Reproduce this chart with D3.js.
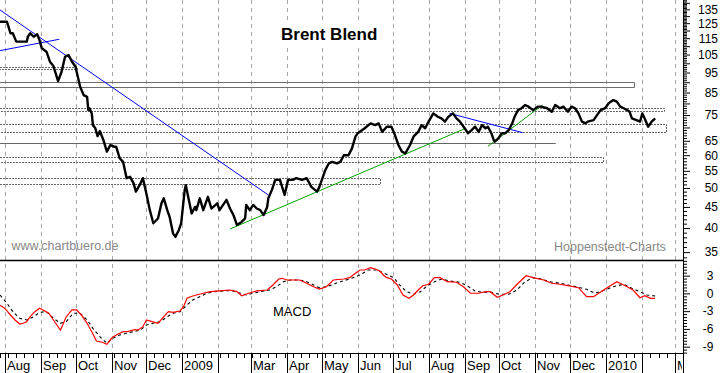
<!DOCTYPE html>
<html>
<head>
<meta charset="utf-8">
<script src="https://cdn.jsdelivr.net/npm/d3@7/dist/d3.min.js"></script>
<style>
body { margin: 0; background: #fff; }
svg { display: block; font-family: "Liberation Sans", Arial, sans-serif; }
</style>
</head>
<body>
<svg id="chart" width="723" height="373"></svg>
<script>
"use strict";

//  Data  ---
var brent = [
    ["2008-07-28", 126.0], ["2008-08-03", 126.0], ["2008-08-06", 118.2], ["2008-08-08", 118.2], ["2008-08-11", 112.8],
    ["2008-08-20", 112.8], ["2008-08-21", 115.9], ["2008-08-23", 118.2], ["2008-08-26", 115.9], ["2008-08-29", 117.5],
    ["2008-08-31", 113.8], ["2008-09-02", 108.7], ["2008-09-06", 106.7], ["2008-09-09", 100.9], ["2008-09-12", 98.5],
    ["2008-09-16", 90.6], ["2008-09-19", 95.4], ["2008-09-22", 103.7], ["2008-09-25", 104.7], ["2008-09-28", 100.9],
    ["2008-10-01", 98.1], ["2008-10-03", 92.8], ["2008-10-05", 87.8], ["2008-10-08", 83.8], ["2008-10-11", 83.0],
    ["2008-10-12", 77.1], ["2008-10-13", 77.9], ["2008-10-15", 75.7], ["2008-10-16", 70.9], ["2008-10-18", 69.8],
    ["2008-10-20", 66.7], ["2008-10-22", 68.6], ["2008-10-25", 65.3], ["2008-10-28", 61.2], ["2008-10-31", 63.5],
    ["2008-11-03", 62.9], ["2008-11-05", 62.9], ["2008-11-08", 59.0], ["2008-11-11", 57.8], ["2008-11-14", 52.8],
    ["2008-11-17", 53.2], ["2008-11-20", 51.3], ["2008-11-22", 49.0], ["2008-11-26", 51.3], ["2008-11-28", 52.8],
    ["2008-12-01", 48.5], ["2008-12-04", 44.2], ["2008-12-07", 41.1], ["2008-12-11", 42.2], ["2008-12-14", 45.9],
    ["2008-12-16", 47.2], ["2008-12-19", 44.2], ["2008-12-21", 42.6], ["2008-12-24", 38.8], ["2008-12-26", 38.1],
    ["2008-12-29", 39.6], ["2008-12-31", 41.1], ["2009-01-03", 49.4], ["2009-01-04", 50.8], ["2009-01-06", 47.6],
    ["2009-01-09", 43.4], ["2009-01-12", 45.0], ["2009-01-13", 44.2], ["2009-01-16", 47.2], ["2009-01-19", 44.2],
    ["2009-01-23", 47.6], ["2009-01-26", 44.6], ["2009-01-31", 45.9], ["2009-02-02", 44.2], ["2009-02-08", 46.8],
    ["2009-02-11", 44.6], ["2009-02-14", 43.0], ["2009-02-17", 40.7], ["2009-02-21", 41.4], ["2009-02-24", 42.2],
    ["2009-02-25", 45.5], ["2009-02-28", 44.2], ["2009-03-03", 45.5], ["2009-03-06", 44.6], ["2009-03-09", 44.2],
    ["2009-03-12", 43.0], ["2009-03-15", 45.0], ["2009-03-16", 47.2], ["2009-03-19", 49.4], ["2009-03-22", 52.3],
    ["2009-03-26", 52.3], ["2009-03-30", 48.1], ["2009-04-02", 52.3], ["2009-04-06", 52.3], ["2009-04-09", 52.8],
    ["2009-04-14", 52.3], ["2009-04-18", 52.8], ["2009-04-22", 50.3], ["2009-04-27", 49.0], ["2009-04-29", 50.3],
    ["2009-05-04", 55.2], ["2009-05-07", 57.3], ["2009-05-10", 57.8], ["2009-05-14", 57.3], ["2009-05-17", 57.8],
    ["2009-05-20", 60.0], ["2009-05-24", 60.0], ["2009-05-27", 62.3], ["2009-05-30", 66.5], ["2009-06-01", 67.8],
    ["2009-06-07", 69.7], ["2009-06-12", 71.6], ["2009-06-16", 70.9], ["2009-06-19", 71.6], ["2009-06-22", 68.3],
    ["2009-06-26", 70.3], ["2009-06-30", 70.3], ["2009-07-03", 67.1], ["2009-07-06", 63.5], ["2009-07-09", 61.2],
    ["2009-07-12", 60.6], ["2009-07-16", 63.5], ["2009-07-19", 66.5], ["2009-07-23", 68.3], ["2009-07-26", 70.9],
    ["2009-07-29", 69.7], ["2009-08-01", 72.3], ["2009-08-05", 75.7], ["2009-08-09", 74.3], ["2009-08-12", 73.6],
    ["2009-08-15", 72.3], ["2009-08-18", 74.3], ["2009-08-22", 75.7], ["2009-08-25", 73.6], ["2009-08-28", 72.3],
    ["2009-09-01", 69.7], ["2009-09-04", 67.8], ["2009-09-07", 69.0], ["2009-09-10", 70.3], ["2009-09-13", 68.3],
    ["2009-09-16", 70.9], ["2009-09-19", 69.7], ["2009-09-21", 70.3], ["2009-09-24", 67.8], ["2009-09-26", 65.3],
    ["2009-09-27", 64.7], ["2009-09-30", 65.9], ["2009-10-03", 67.8], ["2009-10-06", 67.8], ["2009-10-09", 69.0],
    ["2009-10-12", 71.6], ["2009-10-14", 74.3], ["2009-10-17", 77.1], ["2009-10-20", 77.9], ["2009-10-23", 79.3],
    ["2009-10-26", 78.6], ["2009-10-30", 77.1], ["2009-11-03", 78.6], ["2009-11-06", 78.6], ["2009-11-11", 77.9],
    ["2009-11-15", 76.4], ["2009-11-18", 79.3], ["2009-11-22", 77.9], ["2009-11-25", 78.6], ["2009-11-29", 76.4],
    ["2009-12-02", 78.6], ["2009-12-05", 77.9], ["2009-12-08", 75.7], ["2009-12-11", 72.3], ["2009-12-14", 71.6],
    ["2009-12-16", 72.3], ["2009-12-21", 72.9], ["2009-12-24", 75.0], ["2009-12-27", 77.1], ["2009-12-31", 77.9],
    ["2010-01-03", 80.1], ["2010-01-07", 81.5], ["2010-01-10", 80.8], ["2010-01-13", 78.6], ["2010-01-16", 77.9],
    ["2010-01-19", 77.1], ["2010-01-21", 76.4], ["2010-01-23", 73.6], ["2010-01-27", 72.9], ["2010-01-30", 72.3],
    ["2010-02-01", 75.7], ["2010-02-03", 73.6], ["2010-02-06", 70.3], ["2010-02-09", 72.3], ["2010-02-12", 73.6]
];

var macdLine = [
    ["2008-07-28", -2.0], ["2008-08-01", -2.5], ["2008-08-06", -3.65], ["2008-08-10", -4.5], ["2008-08-14", -5.17],
    ["2008-08-17", -5.05], ["2008-08-20", -4.78], ["2008-08-23", -3.94], ["2008-08-27", -3.09], ["2008-08-31", -2.52],
    ["2008-09-03", -2.8], ["2008-09-08", -3.36], ["2008-09-12", -4.49], ["2008-09-15", -5.34], ["2008-09-18", -6.18],
    ["2008-09-20", -5.34], ["2008-09-23", -3.94], ["2008-09-28", -2.8], ["2008-10-02", -2.8], ["2008-10-06", -3.65],
    ["2008-10-11", -5.05], ["2008-10-15", -6.47], ["2008-10-19", -8.04], ["2008-10-24", -8.26], ["2008-10-28", -8.6],
    ["2008-11-01", -7.58], ["2008-11-05", -7.03], ["2008-11-11", -6.47], ["2008-11-15", -6.47], ["2008-11-20", -6.18],
    ["2008-11-24", -6.18], ["2008-11-28", -5.63], ["2008-12-01", -4.49], ["2008-12-06", -4.78], ["2008-12-11", -5.05],
    ["2008-12-16", -3.94], ["2008-12-20", -3.09], ["2008-12-24", -3.19], ["2008-12-30", -2.97], ["2009-01-02", -2.25],
    ["2009-01-05", -0.83], ["2009-01-08", -0.56], ["2009-01-13", -0.27], ["2009-01-19", 0.02], ["2009-01-25", 0.29],
    ["2009-02-02", 0.41], ["2009-02-11", 0.57], ["2009-02-17", 0.29], ["2009-02-21", -0.39], ["2009-02-27", 0.02],
    ["2009-03-06", 0.41], ["2009-03-15", 0.57], ["2009-03-20", 1.42], ["2009-03-25", 2.43], ["2009-03-28", 2.55],
    ["2009-04-01", 2.26], ["2009-04-12", 2.26], ["2009-04-18", 1.71], ["2009-04-24", 1.13], ["2009-04-29", 0.74],
    ["2009-05-05", 1.13], ["2009-05-11", 2.26], ["2009-05-20", 2.43], ["2009-05-25", 2.65], ["2009-05-30", 3.4],
    ["2009-06-03", 3.95], ["2009-06-07", 3.95], ["2009-06-12", 4.34], ["2009-06-16", 4.12], ["2009-06-20", 3.78],
    ["2009-06-23", 3.11], ["2009-06-26", 2.65], ["2009-06-30", 2.43], ["2009-07-05", 1.42], ["2009-07-10", -0.27],
    ["2009-07-15", -0.83], ["2009-07-19", -0.27], ["2009-07-23", 0.57], ["2009-07-27", 1.3], ["2009-08-01", 1.54],
    ["2009-08-06", 2.65], ["2009-08-11", 2.65], ["2009-08-17", 1.98], ["2009-08-25", 1.88], ["2009-08-31", 1.13],
    ["2009-09-06", 0.02], ["2009-09-13", 0.02], ["2009-09-19", 0.29], ["2009-09-23", 0.29], ["2009-09-29", -0.66],
    ["2009-10-04", -0.27], ["2009-10-10", 0.29], ["2009-10-17", 1.71], ["2009-10-24", 2.99], ["2009-10-30", 2.65],
    ["2009-11-08", 2.26], ["2009-11-15", 1.71], ["2009-11-22", 1.54], ["2009-11-29", 1.3], ["2009-12-08", 0.96],
    ["2009-12-15", -0.56], ["2009-12-21", -0.56], ["2009-12-31", 0.74], ["2010-01-10", 1.98], ["2010-01-19", 1.13],
    ["2010-01-24", 0.57], ["2010-01-30", -0.73], ["2010-02-03", -0.39], ["2010-02-08", -0.83], ["2010-02-12", -0.83]
];

var signalLine = [
    ["2008-07-28", -0.27], ["2008-08-03", -1.67], ["2008-08-08", -3.09], ["2008-08-14", -4.21], ["2008-08-20", -4.49],
    ["2008-08-26", -3.94], ["2008-08-31", -3.19], ["2008-09-06", -3.09], ["2008-09-12", -4.21], ["2008-09-18", -5.05],
    ["2008-09-23", -4.78], ["2008-09-29", -3.36], ["2008-10-05", -3.36], ["2008-10-11", -4.49], ["2008-10-16", -5.9],
    ["2008-10-22", -7.31], ["2008-10-28", -8.43], ["2008-11-03", -7.48], ["2008-11-08", -7.03], ["2008-11-14", -6.74],
    ["2008-11-20", -6.47], ["2008-11-26", -6.18], ["2008-12-01", -5.34], ["2008-12-07", -5.05], ["2008-12-13", -4.78],
    ["2008-12-19", -3.94], ["2008-12-24", -3.36], ["2008-12-30", -3.09], ["2009-01-05", -1.96], ["2009-01-10", -1.11],
    ["2009-01-16", -0.56], ["2009-01-22", 0.02], ["2009-01-28", 0.29], ["2009-02-08", 0.46], ["2009-02-14", 0.41],
    ["2009-02-20", 0.02], ["2009-02-25", -0.27], ["2009-03-03", 0.02], ["2009-03-12", 0.41], ["2009-03-17", 0.57],
    ["2009-03-23", 1.13], ["2009-03-29", 1.98], ["2009-04-04", 2.26], ["2009-04-12", 2.26], ["2009-04-18", 1.98],
    ["2009-04-24", 1.42], ["2009-04-29", 0.96], ["2009-05-05", 1.13], ["2009-05-11", 1.54], ["2009-05-17", 1.98],
    ["2009-05-25", 2.43], ["2009-06-03", 3.11], ["2009-06-10", 3.95], ["2009-06-17", 3.95], ["2009-06-24", 3.4],
    ["2009-07-02", 2.65], ["2009-07-07", 1.42], ["2009-07-13", 0.29], ["2009-07-19", -0.15], ["2009-07-25", 0.29],
    ["2009-07-30", 1.13], ["2009-08-05", 1.88], ["2009-08-12", 2.43], ["2009-08-19", 2.09], ["2009-08-28", 1.88],
    ["2009-09-03", 1.3], ["2009-09-10", 0.41], ["2009-09-17", 0.19], ["2009-09-24", 0.19], ["2009-10-01", -0.15],
    ["2009-10-09", -0.15], ["2009-10-16", 0.57], ["2009-10-23", 1.98], ["2009-10-30", 2.65], ["2009-11-06", 2.43],
    ["2009-11-13", 1.98], ["2009-11-22", 1.71], ["2009-11-29", 1.42], ["2009-12-06", 1.13], ["2009-12-15", 0.69],
    ["2009-12-22", 0.02], ["2009-12-29", 0.46], ["2010-01-07", 1.13], ["2010-01-16", 1.54], ["2010-01-23", 0.86],
    ["2010-01-30", 0.29], ["2010-02-05", -0.27], ["2010-02-12", -0.44]
];

// support / resistance zones: low, high, end date
var zones = [
    [96.7, 98.1, "2008-10-02"],
    [87.5, 89.9, "2010-01-25"],
    [76.9, 78.2, "2010-02-20"],
    [68.1, 71.2, "2010-02-21"],
    [64.1, 64.1, "2009-11-18"],
    [57.9, 59.5, "2009-12-29"],
    [51.1, 52.9, "2009-06-20"]
];
var zoneSolid = [false, true, false, false, false, false, false];

// trend lines: from date, from value, to date, to value
var blueLines = [
    ["2008-07-28", 134.5, "2009-03-16", 48.1],
    ["2008-07-28", 107.3, "2008-09-17", 114.3],
    ["2009-08-19", 75.7, "2009-10-21", 68.0]
];
var greenLines = [
    ["2009-02-11", 39.8, "2009-09-02", 69.7],
    ["2009-09-21", 63.0, "2009-11-07", 79.3]
];

var priceLabels = [135, 125, 115, 105, 95, 85, 75, 65, 60, 55, 50, 45, 40, 35];
var macdLabels = [3, 0, -3, -6, -9];
var monthLabels = ["Aug", "Sep", "Oct", "Nov", "Dec", "2009", "", "Mar", "Apr", "May", "Jun",
    "Jul", "Aug", "Sep", "Oct", "Nov", "Dec", "2010", "", "Mar"];

(function () {
    var plotRight = 683, upperBottom = 260, axisY = 353, bottom = 373;
    var parse = d3.timeParse("%Y-%m-%d");
    var svg = d3.select("#chart");

    var x = d3.scaleTime().domain([parse("2008-07-28"), parse("2010-03-08")]).range([0, plotRight]);
    var y = d3.scaleLog().domain([33.5, 142.2]).range([upperBottom, 0]);
    var ym = d3.scaleLinear().domain([-10.07, 5.64]).range([axisY, upperBottom]);

    function crisp(v) { return Math.round(v) + 0.5; }
    function pts(arr) { return arr.map(function (d) { return { date: parse(d[0]), value: d[1] }; }); }

    svg.append("defs").append("clipPath").attr("id", "plotClip")
        .append("rect").attr("x", 0).attr("y", 0).attr("width", plotRight - 1).attr("height", bottom);

    var months = d3.timeMonth.range(parse("2008-08-01"), parse("2010-03-02"));

    //  Grid  ---
    svg.append("g").selectAll("line").data(months).enter().append("line")
        .attr("x1", function (d) { return crisp(x(d)); })
        .attr("x2", function (d) { return crisp(x(d)); })
        .attr("y1", 0)
        .attr("y2", axisY)
        .attr("stroke", "#a8a8a8")
        .attr("stroke-dasharray", "4,4")
    ;

    //  Zones  ---
    svg.append("g").selectAll("path").data(zones).enter().append("path")
        .attr("d", function (d) {
            var t = crisp(y(d[1])), b = crisp(y(d[0])), e = crisp(x(parse(d[2])));
            return "M0," + t + "H" + e + "V" + b + "H0";
        })
        .attr("fill", "none")
        .attr("stroke", function (d, i) { return zoneSolid[i] ? "#6e6e6e" : "#666"; })
        .attr("stroke-dasharray", function (d, i) { return zoneSolid[i] ? null : "2,1"; })
    ;

    //  Trend lines  ---
    function trend(arr, color) {
        svg.append("g").selectAll("line").data(arr).enter().append("line")
            .attr("x1", function (d) { return x(parse(d[0])); })
            .attr("y1", function (d) { return y(d[1]); })
            .attr("x2", function (d) { return x(parse(d[2])); })
            .attr("y2", function (d) { return y(d[3]); })
            .attr("stroke", color)
            .attr("stroke-width", 1)
        ;
    }
    trend(blueLines, "#0000ff");
    trend(greenLines, "#00a000");

    //  Price  ---
    var priceLine = d3.line()
        .x(function (d) { return x(d.date); })
        .y(function (d) { return y(d.value); })
    ;
    svg.append("path")
        .datum(pts(brent))
        .attr("d", priceLine)
        .attr("fill", "none")
        .attr("stroke", "#000")
        .attr("stroke-width", 2.4)
        .attr("stroke-linejoin", "round")
    ;

    //  MACD  ---
    var mLine = d3.line()
        .x(function (d) { return x(d.date); })
        .y(function (d) { return ym(d.value); })
    ;
    svg.append("path")
        .datum(pts(signalLine))
        .attr("d", mLine)
        .attr("fill", "none")
        .attr("stroke", "#000")
        .attr("stroke-width", 1.1)
        .attr("stroke-dasharray", "3,3")
    ;
    svg.append("path")
        .datum(pts(macdLine))
        .attr("d", mLine)
        .attr("fill", "none")
        .attr("stroke", "#ff0000")
        .attr("stroke-width", 1.2)
    ;

    //  Texts  ---
    var title = svg.append("text")
        .attr("x", 281)
        .attr("y", 40)
        .attr("font-size", 17)
        .attr("font-weight", "bold")
        .text("Brent Blend")
    ;
    var bb = title.node().getBBox();
    svg.insert("rect", "text")
        .attr("x", bb.x - 12).attr("y", 22)
        .attr("width", bb.width + 24).attr("height", 25)
        .attr("fill", "#fff")
    ;
    svg.append("text")
        .attr("x", 11.5).attr("y", 250)
        .attr("font-size", 12.5).attr("fill", "#888")
        .text("www.chartbuero.de")
    ;
    svg.append("text")
        .attr("x", 554).attr("y", 250.5)
        .attr("font-size", 12.5).attr("fill", "#888")
        .text("Hoppenstedt-Charts")
    ;
    svg.append("text")
        .attr("x", 273).attr("y", 316)
        .attr("font-size", 13).attr("fill", "#000")
        .text("MACD")
    ;

    //  Frame  ---
    svg.append("line")
        .attr("x1", 0).attr("x2", plotRight).attr("y1", upperBottom + 0.5).attr("y2", upperBottom + 0.5)
        .attr("stroke", "#000").attr("stroke-width", 1.5)
    ;
    svg.append("line")
        .attr("x1", 0).attr("x2", plotRight).attr("y1", axisY + 0.5).attr("y2", axisY + 0.5)
        .attr("stroke", "#000")
    ;
    svg.append("line")
        .attr("x1", plotRight + 0.5).attr("x2", plotRight + 0.5).attr("y1", 0).attr("y2", bottom)
        .attr("stroke", "#000")
    ;

    //  Right axes  ---
    var priceAxis = d3.axisRight(y)
        .tickValues(d3.range(34, 143))
        .tickSizeOuter(0)
        .tickFormat(function (d) { return priceLabels.indexOf(d) >= 0 ? d : ""; })
    ;
    var gp = svg.append("g").attr("transform", "translate(" + plotRight + ",0)").call(priceAxis)
        .attr("font-family", null).attr("font-size", 12);
    gp.select(".domain").remove();
    gp.selectAll(".tick line").attr("x2", function (d) { return d % 5 === 0 ? 7 : 4; });
    gp.selectAll(".tick text").attr("x", 35).attr("text-anchor", "end").attr("fill", "#000");

    var macdAxis = d3.axisRight(ym)
        .tickValues(d3.range(-20, 12).map(function (d) { return d / 2; }))
        .tickSizeOuter(0)
        .tickFormat(function (d) { return macdLabels.indexOf(d) >= 0 ? d : ""; })
    ;
    var gm = svg.append("g").attr("transform", "translate(" + plotRight + ",0)").call(macdAxis)
        .attr("font-family", null).attr("font-size", 12);
    gm.select(".domain").remove();
    gm.selectAll(".tick line").attr("x2", function (d) { return d % 3 === 0 ? 7 : 4; });
    gm.selectAll(".tick text").attr("x", 30.5).attr("text-anchor", "end").attr("fill", "#000");

    //  Time axis  ---
    var gx = svg.append("g").attr("clip-path", "url(#plotClip)");
    gx.selectAll("line.week").data(d3.timeMonday.range(x.domain()[0], x.domain()[1])).enter().append("line")
        .attr("class", "week")
        .attr("x1", function (d) { return crisp(x(d)); })
        .attr("x2", function (d) { return crisp(x(d)); })
        .attr("y1", axisY).attr("y2", axisY + 5)
        .attr("stroke", "#000")
    ;
    gx.selectAll("line.month").data(months).enter().append("line")
        .attr("class", "month")
        .attr("x1", function (d) { return crisp(x(d)); })
        .attr("x2", function (d) { return crisp(x(d)); })
        .attr("y1", axisY).attr("y2", bottom)
        .attr("stroke", "#000")
    ;
    gx.selectAll("text").data(months).enter().append("text")
        .attr("x", function (d) { return Math.round(x(d)) + 2; })
        .attr("y", 370)
        .attr("font-size", 13)
        .text(function (d, i) { return monthLabels[i]; })
    ;
})();
</script>
</body>
</html>
